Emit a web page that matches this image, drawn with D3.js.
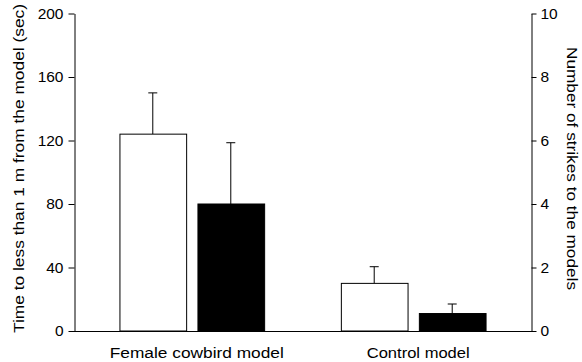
<!DOCTYPE html>
<html><head><meta charset="utf-8">
<script src="https://cdn.jsdelivr.net/npm/d3@7"></script>
<style>body{margin:0;background:#fff}svg{display:block}text{font-family:"Liberation Sans",Arial,sans-serif;fill:#000}</style>
</head><body>
<svg id="c" width="582" height="362"></svg>
<script>
const categories = ["Female cowbird model", "Control model"];
const timeMean = [124, 30];        // seconds (left axis, white bars)
const timeErr = [150, 40.5];       // upper error bar
const strikeMean = [4.0, 0.55];    // strikes (right axis, black bars)
const strikeErr = [5.93, 0.85];
const leftTicks = [0, 40, 80, 120, 160, 200];
const rightTicks = [0, 2, 4, 6, 8, 10];

const svg = d3.select("#c");
const x0 = 74, x1 = 531, yTop = 13.5, yBot = 331;
const yL = d3.scaleLinear().domain([0, 200]).range([yBot, yTop]);
const yR = d3.scaleLinear().domain([0, 10]).range([yBot, yTop]);
const xg = d3.scalePoint().domain(categories).range([x0, x1]).padding(0.532);
const xs = d3.scaleBand().domain(["time", "strikes"]).range([-72.35, 72.35]).paddingInner(0.145);

const rows = categories.map((c, i) => ({c, tm: timeMean[i], te: timeErr[i], sm: strikeMean[i], se: strikeErr[i]}));

function errBar(cx, yMean, yErr) {
  svg.append("line").attr("x1", cx).attr("x2", cx).attr("y1", yMean).attr("y2", yErr).attr("stroke", "#000").attr("stroke-width", 1);
  svg.append("line").attr("x1", cx - 4.5).attr("x2", cx + 4.5).attr("y1", yErr).attr("y2", yErr).attr("stroke", "#000").attr("stroke-width", 1);
}
rows.forEach(r => {
  const g = xg(r.c);
  const bw = xs.bandwidth();
  const xt = g + xs("time"), xk = g + xs("strikes");
  errBar(xt + bw / 2, yL(r.tm), yL(r.te));
  errBar(xk + bw / 2, yR(r.sm), yR(r.se));
  svg.append("rect").attr("x", xt + 0.5).attr("y", yL(r.tm)).attr("width", bw).attr("height", yBot - yL(r.tm))
    .attr("fill", "#fff").attr("stroke", "#000").attr("stroke-width", 1);
  svg.append("rect").attr("x", xk + 0.5).attr("y", yR(r.sm)).attr("width", bw).attr("height", yBot - yR(r.sm))
    .attr("fill", "#000").attr("stroke", "#000").attr("stroke-width", 1);
});

const axL = svg.append("g").attr("transform", `translate(${x0 + 0.5},0)`)
  .call(d3.axisLeft(yL).tickValues(leftTicks).tickSize(6).tickPadding(5).tickSizeOuter(0));
const axR = svg.append("g").attr("transform", `translate(${x1 + 0.5},0)`)
  .call(d3.axisRight(yR).tickValues(rightTicks).tickSize(5).tickPadding(4).tickSizeOuter(0));
[axL, axR].forEach(a => {
  a.selectAll("text").style("font-size", "15.5px").style("font-family", '"Liberation Sans",Arial,sans-serif').attr("fill", "#000");
  a.selectAll("line,path").attr("stroke", "#000");
});
svg.append("line").attr("x1", x0).attr("x2", x1 + 1).attr("y1", yBot + 0.5).attr("y2", yBot + 0.5).attr("stroke", "#000");

const labelLen = [174, 103];
svg.selectAll(".cl").data(categories).enter().append("text")
  .attr("x", d => xg(d) + 5).attr("y", 357.5).attr("text-anchor", "middle").style("font-size", "15.5px")
  .attr("textLength", (d, i) => labelLen[i]).attr("lengthAdjust", "spacingAndGlyphs").text(d => d);

svg.append("text").attr("transform", `translate(23.5,168.5) rotate(-90)`)
  .attr("text-anchor", "middle").style("font-size", "15.5px")
  .attr("textLength", 329).attr("lengthAdjust", "spacingAndGlyphs")
  .text("Time to less than 1 m from the model (sec)");
svg.append("text").attr("transform", `translate(566.5,168.5) rotate(90)`)
  .attr("text-anchor", "middle").style("font-size", "15.5px")
  .attr("textLength", 243).attr("lengthAdjust", "spacingAndGlyphs")
  .text("Number of strikes to the models");
</script>
</body></html>
